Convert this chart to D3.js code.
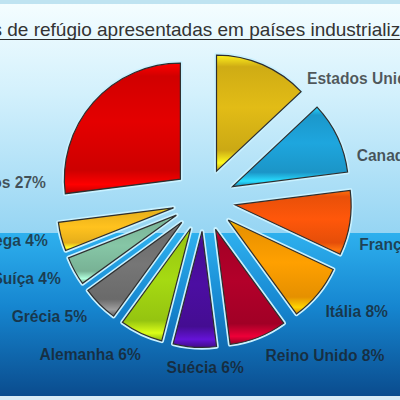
<!DOCTYPE html>
<html>
<head>
<meta charset="utf-8">
<script src="https://cdn.jsdelivr.net/npm/d3@7"></script>
<style>
  html, body { margin: 0; padding: 0; background: #fff; }
  svg { display: block; font-family: "Liberation Sans", Arial, sans-serif; }
</style>
</head>
<body>
<svg id="chart" width="400" height="400"></svg>
<script>
// data (percent of applications)
var title = "Solicitações de refúgio apresentadas em países industrializados";
var countries = ["Estados Unidos", "Canadá", "França", "Itália", "Reino Unido", "Suécia",
                 "Alemanha", "Grécia", "Suíça", "Noruega", "Outros"];
var shares = [13, 10, 9, 8, 8, 6, 6, 5, 4, 4, 27];
var colors = ["#e2bc16", "#1ea6de", "#ff570a", "#ffa000", "#b3002a", "#4c0ea2",
              "#a6da12", "#767676", "#86c6a6", "#ffc21e", "#e40000"];

// labels that were dragged away from the slice middle in the original (degrees)
var labelNudge = { "Estados Unidos": 17, "Canadá": 9, "França": 7, "Itália": 3,
                   "Suécia": -4, "Alemanha": -3, "Outros": -35 };

var svg = d3.select("#chart");
var W = 400, H = 400;
var cx = 204, cy = 200, radius = 116, explode = 31.5;

var defs = svg.append("defs");

// background: light top half, blue bottom half
var gTop = defs.append("linearGradient").attr("id", "bgTop")
  .attr("x1", 0).attr("y1", 0).attr("x2", 0).attr("y2", 1);
gTop.append("stop").attr("offset", 0).attr("stop-color", "#f4fdff");
gTop.append("stop").attr("offset", 0.4).attr("stop-color", "#d2f0fc");
gTop.append("stop").attr("offset", 1).attr("stop-color", "#96d5f3");

var gBot = defs.append("linearGradient").attr("id", "bgBot")
  .attr("x1", 0).attr("y1", 0).attr("x2", 0).attr("y2", 1);
gBot.append("stop").attr("offset", 0).attr("stop-color", "#2eb0ee");
gBot.append("stop").attr("offset", 0.45).attr("stop-color", "#1686d0");
gBot.append("stop").attr("offset", 1).attr("stop-color", "#0a4c8e");

svg.append("rect").attr("x", 0).attr("y", 0).attr("width", W).attr("height", 4).attr("fill", "#bfe3f1");
svg.append("rect").attr("x", 0).attr("y", 4).attr("width", W).attr("height", 229).attr("fill", "url(#bgTop)");
svg.append("rect").attr("x", 0).attr("y", 233).attr("width", W).attr("height", 163).attr("fill", "url(#bgBot)");
svg.append("rect").attr("x", 0).attr("y", 396).attr("width", W).attr("height", 4).attr("fill", "#d8ecf6");

// title (the original is cropped on both sides)
var t = svg.append("text")
  .attr("y", 36)
  .attr("font-size", 19)
  .attr("fill", "#333")
  .text(title);
var cut = t.node().getSubStringLength(0, title.indexOf(" de"));
t.attr("x", 2 - cut);
svg.append("line")
  .attr("x1", 0).attr("x2", W).attr("y1", 39.5).attr("y2", 39.5)
  .attr("stroke", "#2a2a2a").attr("stroke-width", 1.2);

// glossy gradient per slice
colors.forEach(function (c, i) {
  var g = defs.append("linearGradient").attr("id", "sl" + i)
    .attr("x1", 0).attr("y1", 0).attr("x2", 0).attr("y2", 1);
  var base = d3.color(c);
  g.append("stop").attr("offset", 0).attr("stop-color", base.brighter(0.7));
  g.append("stop").attr("offset", 0.1).attr("stop-color", base.darker(0.25));
  g.append("stop").attr("offset", 0.45).attr("stop-color", base);
  g.append("stop").attr("offset", 0.82).attr("stop-color", base.darker(0.3));
  g.append("stop").attr("offset", 0.93).attr("stop-color", base.brighter(0.8));
  g.append("stop").attr("offset", 1).attr("stop-color", base.darker(0.5));
});

var data = countries.map(function (name, i) {
  return { name: name, value: shares[i], color: colors[i], idx: i };
});

var pie = d3.pie().sort(null).value(function (d) { return d.value; });
var arc = d3.arc().innerRadius(0).outerRadius(radius);
var arcs = pie(data);

var g = svg.append("g").attr("transform", "translate(" + cx + "," + cy + ")");

var slices = g.selectAll("g.slice").data(arcs).enter().append("g")
  .attr("class", "slice")
  .attr("transform", function (d) {
    var a = (d.startAngle + d.endAngle) / 2;
    return "translate(" + (explode * Math.sin(a)) + "," + (-explode * Math.cos(a)) + ")";
  });

// light halo round each slice
slices.append("path")
  .attr("d", arc)
  .attr("fill", "none")
  .attr("stroke", "#c9f1ff")
  .attr("stroke-width", 4.5)
  .attr("stroke-linejoin", "round");

slices.append("path")
  .attr("d", arc)
  .attr("fill", function (d) { return "url(#sl" + d.data.idx + ")"; })
  .attr("stroke", "#2e2e2e")
  .attr("stroke-width", 1.2);

// labels
g.selectAll("text.lbl").data(arcs).enter().append("text")
  .attr("class", "lbl")
  .each(function (d) {
    var a = (d.startAngle + d.endAngle) / 2 + (labelNudge[d.data.name] || 0) * Math.PI / 180;
    var s = Math.sin(a), c = Math.cos(a);
    var r = 159 + 9 * Math.max(0, -c);
    d3.select(this)
      .attr("x", r * s)
      .attr("y", -r * c)
      .attr("text-anchor", s > 0.25 ? "start" : (s < -0.25 ? "end" : "middle"));
  })
  .attr("dy", "0.35em")
  .attr("font-size", 15.6)
  .attr("font-weight", "bold")
  .attr("fill", "#1a1a1a")
  .attr("fill-opacity", 0.72)
  .text(function (d) { return d.data.name + " " + d.data.value + "%"; });
</script>
</body>
</html>
